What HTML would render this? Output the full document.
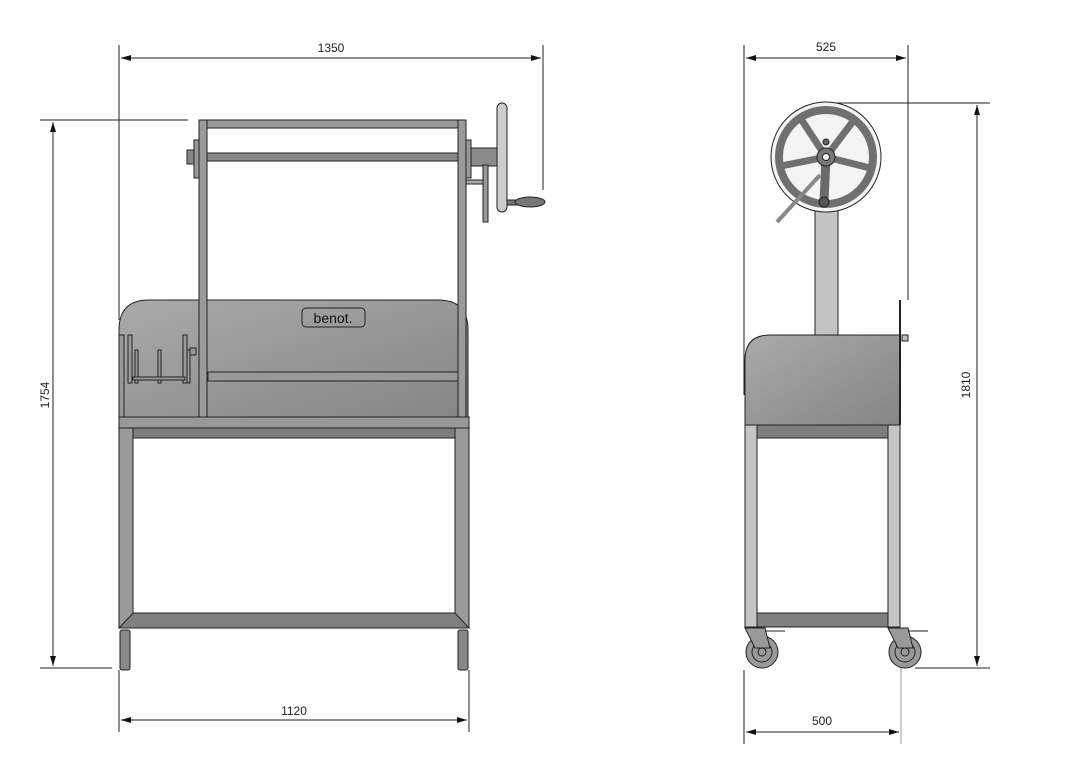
<!DOCTYPE html>
<html><head><style>body{margin:0;background:#fff}svg{display:block}text{font-family:"Liberation Sans",sans-serif;font-size:12px;fill:#222}</style></head>
<body>
<svg width="1069" height="775" viewBox="0 0 1069 775">
<defs>
<linearGradient id="g" x1="0" y1="0" x2="1" y2="1"><stop offset="0" stop-color="#aaa"/><stop offset="1" stop-color="#858585"/></linearGradient>
<marker id="a" markerWidth="10" markerHeight="6" refX="10" refY="3" orient="auto-start-reverse" markerUnits="userSpaceOnUse"><path d="M0,0L10,3L0,6z" fill="#111"/></marker>
</defs>
<g stroke="#222" stroke-width="1" fill="none">
<line x1="119" y1="45" x2="119" y2="320"/><line x1="543" y1="45" x2="543" y2="190"/>
<line x1="121" y1="58" x2="541" y2="58" marker-start="url(#a)" marker-end="url(#a)"/>
<line x1="40" y1="120" x2="188" y2="120"/><line x1="40" y1="668" x2="112" y2="668"/>
<line x1="53" y1="122" x2="53" y2="666" marker-start="url(#a)" marker-end="url(#a)"/>
<line x1="119" y1="670" x2="119" y2="732"/><line x1="469" y1="670" x2="469" y2="732"/>
<line x1="121" y1="720" x2="467" y2="720" marker-start="url(#a)" marker-end="url(#a)"/>
<line x1="744" y1="45" x2="744" y2="395"/><line x1="908" y1="45" x2="908" y2="300"/>
<line x1="746" y1="58" x2="906" y2="58" marker-start="url(#a)" marker-end="url(#a)"/>
<line x1="830" y1="103" x2="990" y2="103"/><line x1="915" y1="668" x2="990" y2="668"/>
<line x1="977" y1="105" x2="977" y2="666" marker-start="url(#a)" marker-end="url(#a)"/>
<line x1="744" y1="670" x2="744" y2="744"/><line x1="901" y1="660" x2="901" y2="744" stroke="#999"/>
<line x1="746" y1="732" x2="899" y2="732" marker-start="url(#a)" marker-end="url(#a)"/>
</g>
<text x="331" y="52" text-anchor="middle">1350</text>
<text x="294" y="715" text-anchor="middle">1120</text>
<text transform="translate(49,395) rotate(-90)" text-anchor="middle">1754</text>
<text x="826" y="51" text-anchor="middle">525</text>
<text x="822" y="725" text-anchor="middle">500</text>
<text transform="translate(970,385) rotate(-90)" text-anchor="middle">1810</text>

<g stroke="#222" stroke-width="1">
<path d="M119,417 L119,330 Q119,300 149,300 L438,300 Q468,300 468,330 L468,417 Z" fill="url(#g)"/>
<rect x="302" y="308" width="63" height="19" rx="4" fill="none"/>
<rect x="208" y="372" width="251" height="9" fill="#999"/>
<rect x="119" y="335" width="5" height="82" fill="#999"/>
<g fill="#9a9a9a"><rect x="128" y="335" width="4" height="48"/><rect x="135" y="350" width="3" height="33"/><rect x="158" y="350" width="3" height="33"/><rect x="183" y="335" width="4" height="48"/><rect x="187" y="350" width="3" height="33"/><rect x="133" y="377" width="52" height="3"/><rect x="190" y="348" width="6" height="7"/></g>
<rect x="119" y="417" width="350" height="11" fill="#999"/>
<path d="M119,428 L469,428 L459,438 L129,438 Z" fill="#7d7d7d"/>
<rect x="119" y="428" width="14" height="200" fill="#9a9a9a"/>
<rect x="455" y="428" width="14" height="200" fill="#9a9a9a"/>
<path d="M133,613 L455,613 L469,628 L119,628 Z" fill="#808080"/>
<rect x="120" y="630" width="10" height="40" rx="2" fill="#888"/>
<rect x="458" y="630" width="10" height="40" rx="2" fill="#888"/>
<rect x="199" y="120" width="267" height="8" fill="#999"/>
<rect x="199" y="120" width="8" height="297" fill="#9a9a9a"/>
<rect x="458" y="120" width="8" height="297" fill="#9a9a9a"/>
<rect x="207" y="153" width="251" height="8" fill="#888"/>
<rect x="194" y="140" width="5" height="38" fill="#999"/><rect x="187" y="150" width="7" height="14" fill="#888"/>
<rect x="466" y="140" width="5" height="38" fill="#999"/><rect x="471" y="148" width="26" height="18" fill="#8a8a8a"/>
<rect x="483" y="165" width="5" height="57" fill="#999"/><rect x="466" y="180" width="17" height="4" fill="#aaa"/>
<rect x="497" y="103" width="10" height="109" rx="5" fill="#ccc"/>
<rect x="507" y="200" width="10" height="5" fill="#777"/>
<ellipse cx="530" cy="202" rx="15" ry="5" fill="#777"/>
</g>
<text x="333" y="323" text-anchor="middle" style="font-size:14px;fill:#111">benot.</text>

<g stroke="#222" stroke-width="1">
<rect x="815" y="120" width="23" height="215" fill="#c4c4c4"/>
<path d="M745,425 L745,360 Q745,335 770,335 L900,335 L900,425 Z" fill="url(#g)"/>
<line x1="900" y1="300" x2="900" y2="425" stroke-width="2"/>
<rect x="902" y="335" width="6" height="6" fill="#bbb"/>
<rect x="756" y="425" width="134" height="13" fill="#7d7d7d"/>
<rect x="745" y="425" width="12" height="202" fill="#c4c4c4"/>
<rect x="888" y="425" width="12" height="202" fill="#c4c4c4"/>
<rect x="757" y="613" width="131" height="14" fill="#808080"/>
<g fill="#999"><circle cx="762" cy="652" r="16"/><circle cx="762" cy="652" r="10" fill="none"/><circle cx="762" cy="652" r="4"/>
<circle cx="905" cy="652" r="16"/><circle cx="905" cy="652" r="10" fill="none"/><circle cx="905" cy="652" r="4"/>
<path d="M745,628 L765,628 L770,648 L755,648 Z"/><path d="M888,628 L908,628 L913,648 L898,648 Z"/></g>
<line x1="765" y1="631" x2="785" y2="631"/><line x1="908" y1="631" x2="928" y2="631"/>
<circle cx="826" cy="157" r="55" fill="#f4f4f4"/>
<circle cx="826" cy="157" r="47" fill="none" stroke="#707070" stroke-width="8"/>
<g stroke="#707070" stroke-width="7"><line x1="826" y1="157" x2="801" y2="119"/><line x1="826" y1="157" x2="854" y2="120"/><line x1="826" y1="157" x2="781" y2="166"/><line x1="826" y1="157" x2="870" y2="168"/></g>
<line x1="826" y1="157" x2="824" y2="202" stroke="#6a6a6a" stroke-width="9"/>
<line x1="820" y1="175" x2="777" y2="222" stroke="#888" stroke-width="4"/>
<circle cx="826" cy="157" r="9" fill="#777"/><circle cx="826" cy="157" r="3.5" fill="#fff"/>
<circle cx="826" cy="142" r="3" fill="#666"/>
<circle cx="824" cy="202" r="5" fill="#555"/>
</g>
</svg>
</body></html>
